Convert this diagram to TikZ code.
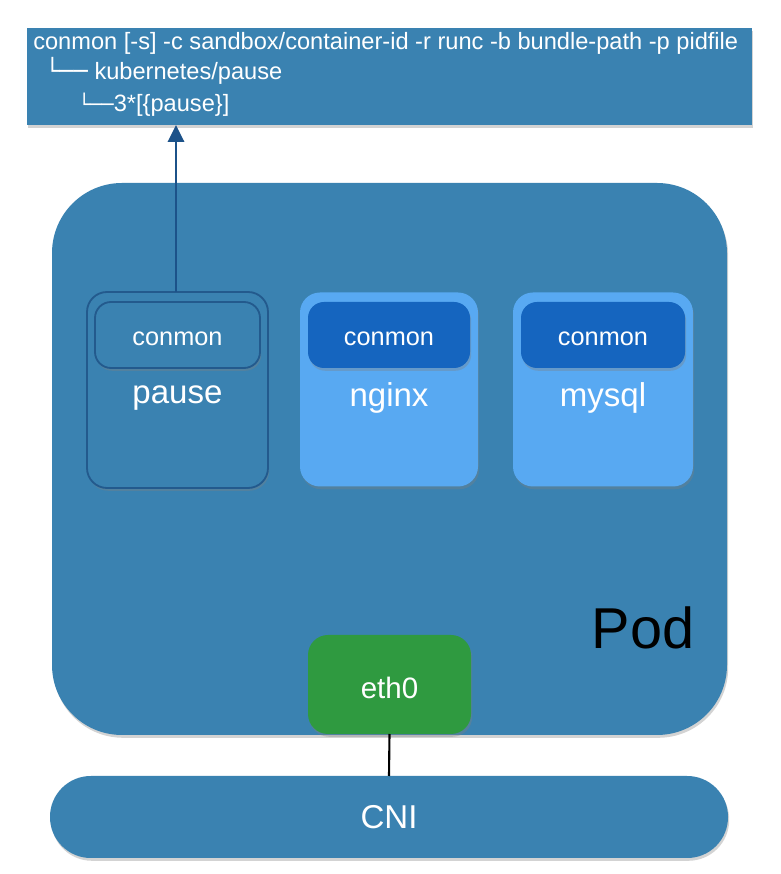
\documentclass[tikz,border=0pt]{standalone}
\usepackage{fontspec}
\setmainfont{Liberation Sans}
\newfontfamily\treefont{DejaVu Sans}
\usetikzlibrary{arrows.meta,shadows}
\definecolor{podblue}{HTML}{3A82B1}
\definecolor{lightblue}{HTML}{58A9F2}
\definecolor{conblue}{HTML}{1565BF}
\definecolor{edgeblue}{HTML}{235A8D}
\definecolor{arrowblue}{HTML}{1C5289}
\definecolor{ethgreen}{HTML}{2F9A40}
\begin{document}
\begin{tikzpicture}[
  shade/.style={drop shadow={opacity=.35,shadow xshift=.03cm,shadow yshift=-.07cm}},
  panel/.style={shade, fill=podblue, inner sep=0, outer sep=0},
  ctr/.style={shade, fill=lightblue, rounded corners=.5cm, minimum width=4.45cm, minimum height=4.85cm, inner sep=0, outer sep=0},
  conbox/.style={shade, fill=conblue, rounded corners=.4cm, minimum width=4.05cm, minimum height=1.65cm, inner sep=0, outer sep=0},
  cmdtext/.style={anchor=base west, inner sep=0, text=white, font=\fontsize{16.8}{19}\selectfont},
  lbl/.style={text=white, inner sep=0, font=\fontsize{23.5}{28}\selectfont},
  conlbl/.style={text=white, inner sep=0, font=\fontsize{18}{21}\selectfont}
]
\useasboundingbox (0,0) rectangle (19.5,21.85);
\node[panel, minimum width=18.125cm, minimum height=2.425cm] (cmd) at (9.7375,19.9375) {};
\node[cmdtext] (line1) at (0.825,20.6) {conmon [-s] -c sandbox/container-id -r runc -b bundle-path -p pidfile};
\node[cmdtext] (line2) at (1.125,19.85) {{\treefont └──} kubernetes/pause};
\node[cmdtext] (line3) at (1.95,19.07) {{\treefont\fontsize{14}{19}\selectfont └──}3*[\{pause\}]};
\node[panel, rounded corners=1.75cm, minimum width=16.875cm, minimum height=13.8cm] (pod) at (9.7375,10.375) {};
\node[inner sep=0, font=\fontsize{41}{48}\selectfont] (podlabel) at (16.075,6.15) {Pod};
\node[panel, draw=edgeblue, line width=1.3pt, rounded corners=.5cm, minimum width=4.525cm, minimum height=4.9cm] (pause) at (4.4375,12.1) {};
\node[conbox, fill=podblue, draw=edgeblue, line width=1.3pt, minimum width=4.125cm] (pausecon) at (4.4375,13.475) {};
\node[conlbl] (pauseconlbl) at (4.4375,13.38) {conmon};
\node[lbl] (pauselabel) at (4.4375,11.9) {pause};
\node[ctr] (nginx) at (9.725,12.1125) {};
\node[conbox] (nginxcon) at (9.725,13.475) {};
\node[conlbl] (nginxconlbl) at (9.725,13.38) {conmon};
\node[lbl] (nginxlabel) at (9.725,11.9) {nginx};
\node[ctr, minimum width=4.5cm] (mysql) at (15.075,12.1125) {};
\node[conbox, minimum width=4.1cm] (mysqlcon) at (15.075,13.475) {};
\node[conlbl] (mysqlconlbl) at (15.075,13.38) {conmon};
\node[lbl] (mysqllabel) at (15.075,11.9) {mysql};
\node[shade, fill=ethgreen, rounded corners=.5cm, minimum width=4.075cm, minimum height=2.475cm, inner sep=0, outer sep=0] (eth) at (9.7375,4.7375) {};
\node[text=white, inner sep=0, font=\fontsize{21}{25}\selectfont] (ethlbl) at (9.7375,4.66) {eth0};
\node[panel, rounded corners=1.02cm, minimum width=16.95cm, minimum height=2.05cm, text=white, font=\fontsize{23.5}{28}\selectfont] (cni) at (9.725,1.425) {CNI};
\draw[-{Triangle[length=.42cm,width=.4cm]}, arrowblue, line width=2pt] (pause.north -| 4.4,0) -- (cmd.south -| 4.4,0);
\draw[line width=1.5pt] (eth.south) -- (cni.north);
\end{tikzpicture}
\end{document}
